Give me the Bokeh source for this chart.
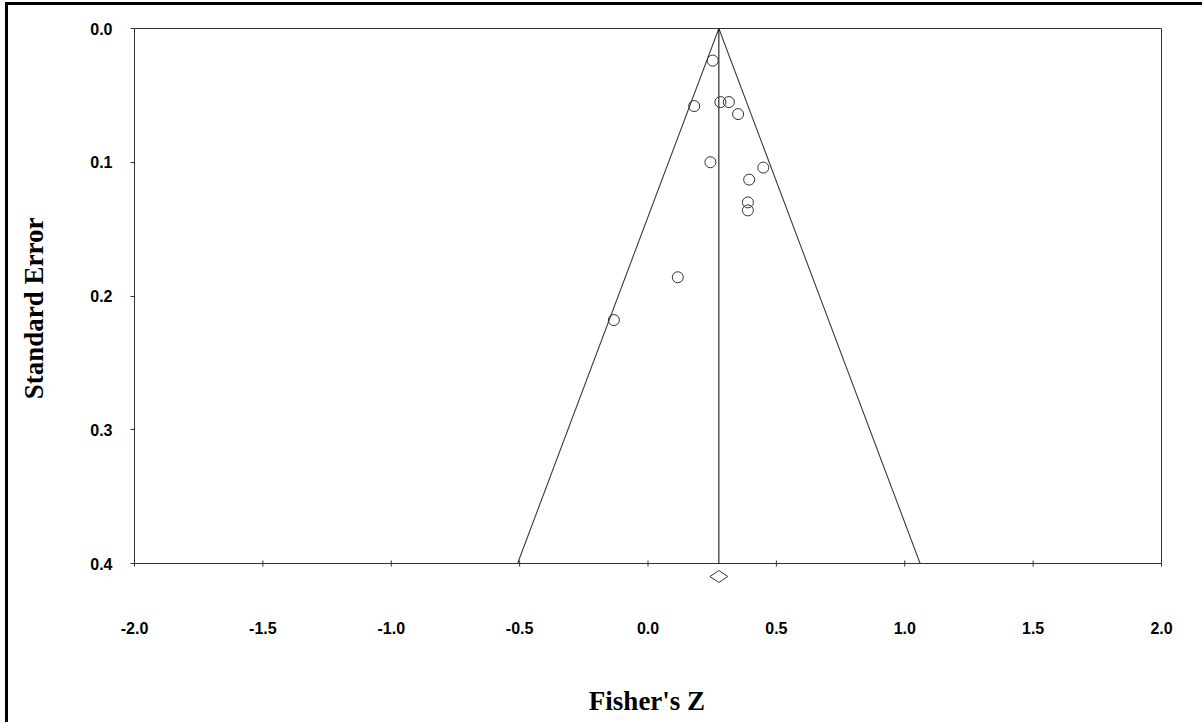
from bokeh.plotting import figure
from bokeh.models import Range1d, FixedTicker, ColumnDataSource
from bokeh.embed import file_html
from bokeh.resources import INLINE

# Study effects (Fisher's Z) and their standard errors
fisher_z = [0.252, 0.180, 0.282, 0.315, 0.351, 0.243, 0.449, 0.394, 0.389, 0.389, 0.116, -0.133]
std_err = [0.024, 0.058, 0.055, 0.055, 0.064, 0.100, 0.104, 0.113, 0.130, 0.136, 0.186, 0.218]

# Summary estimate and its confidence interval
summary_z = 0.276
ci_low = 0.241
ci_high = 0.311
z_crit = 1.96
se_max = 0.4

x_ticks = [-2.0, -1.5, -1.0, -0.5, 0.0, 0.5, 1.0, 1.5, 2.0]
y_ticks = [0.0, 0.1, 0.2, 0.3, 0.4]

# geometry of the plotting box (pixels)
box_w, box_h = 1027, 535
x_min, x_max = -2.0, 2.0
y_min, y_max = 0.0, 0.4
px_x = box_w / (x_max - x_min)
px_y = box_h / (y_max - y_min)
pad_l, pad_r, pad_t, pad_b = 4, 2, 2, 27

p = figure(
    output_backend="svg", toolbar_location=None,
    frame_width=box_w + pad_l + pad_r, frame_height=box_h + pad_t + pad_b,
    min_border_left=122, min_border_right=39, min_border_top=21, min_border_bottom=132,
    x_range=Range1d(x_min - pad_l / px_x, x_max + pad_r / px_x),
    y_range=Range1d(y_max + pad_b / px_y, y_min - pad_t / px_y),
)
p.styles = {"margin-left": "5px", "margin-top": "2px",
            "border-top": "3px solid black", "border-left": "3px solid black"}
p.grid.visible = False
p.outline_line_color = None
p.background_fill_color = "white"
p.border_fill_color = "white"

# plotting box
p.quad(left=[x_min], right=[x_max], top=[y_min], bottom=[y_max],
       fill_color=None, line_color="#333333", line_width=1)

# x tick marks crossing the bottom of the box
tk = 3 / px_y
p.segment(x0=x_ticks, x1=x_ticks, y0=[y_max - tk] * len(x_ticks), y1=[y_max + tk] * len(x_ticks),
          line_color="#333333", line_width=1)

# funnel
half = z_crit * se_max
src_f = ColumnDataSource(dict(x=[summary_z - half, summary_z, summary_z + half], y=[se_max, 0.0, se_max]))
p.line("x", "y", source=src_f, line_color="#3a3a3a", line_width=1.1)
src_c = ColumnDataSource(dict(x=[summary_z, summary_z], y=[0.0, se_max]))
p.line("x", "y", source=src_c, line_color="black", line_width=1)

# studies
src = ColumnDataSource(dict(x=fisher_z, y=std_err))
p.scatter("x", "y", source=src, marker="circle", size=11, fill_color=None,
          line_color="#333333", line_width=1)

# summary diamond under the axis
dy = 6 / px_y
yc = se_max + 13 / px_y
p.patch(x=[ci_low, summary_z, ci_high, summary_z], y=[yc, yc - dy, yc, yc + dy],
        fill_color=None, line_color="#333333", line_width=1)

p.xaxis.ticker = FixedTicker(ticks=x_ticks)
p.yaxis.ticker = FixedTicker(ticks=y_ticks)
p.xaxis.major_label_overrides = {t: f"{t:.1f}" for t in x_ticks}
p.yaxis.major_label_overrides = {t: f"{t:.1f}" for t in y_ticks}

for ax in (p.xaxis, p.yaxis):
    ax.axis_line_color = None
    ax.minor_tick_line_color = None
    ax.major_tick_line_color = "#333333"
    ax.major_label_text_font = "Liberation Sans"
    ax.major_label_text_font_style = "bold"
    ax.major_label_text_font_size = "16px"
    ax.major_label_text_color = "black"
    ax.axis_label_text_font = "Liberation Serif"
    ax.axis_label_text_font_style = "bold"
    ax.axis_label_text_font_size = "27px"
    ax.axis_label_text_color = "black"

p.xaxis.major_tick_in = 0
p.xaxis.major_tick_out = 0
p.xaxis.major_label_standoff = 31
p.xaxis.axis_label = "Fisher's Z"
p.xaxis.axis_label_standoff = 49

p.yaxis.major_tick_in = 4
p.yaxis.major_tick_out = 0
p.yaxis.major_label_standoff = 18
p.yaxis.axis_label = "Standard Error"
p.yaxis.axis_label_standoff = 38

open("out.html", "w").write(file_html(p, INLINE))
